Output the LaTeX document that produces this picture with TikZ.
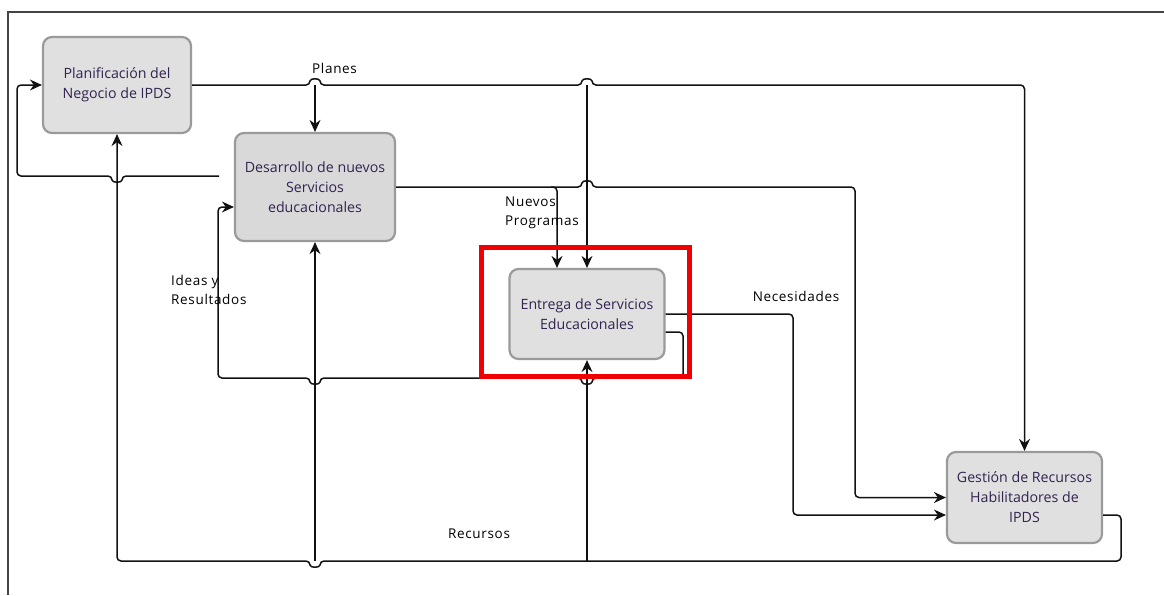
\documentclass[tikz,border=0pt]{standalone}
\usepackage{fontspec}
\setmainfont{Open Sans}
\newfontfamily\lblfont[LetterSpace=5]{Open Sans}
\usetikzlibrary{arrows.meta,calc}
\definecolor{boxfill}{HTML}{E0E0E0}
\definecolor{boxfilldk}{HTML}{D9D9D9}
\definecolor{boxline}{HTML}{9A9A9A}
\definecolor{boxtext}{RGB}{50,35,80}
\definecolor{wire}{HTML}{111111}
\definecolor{framec}{HTML}{444444}
\definecolor{hilite}{HTML}{F00000}

\begin{document}
\begin{tikzpicture}[x=1pt,y=-1pt,
  proc/.style={draw=boxline, line width=2.2pt, fill=boxfill, rounded corners=9pt,
    text=boxtext, align=center, font=\fontsize{14.2}{20}\selectfont, inner sep=0pt},
  flow/.style={draw=wire, line width=1.5pt, rounded corners=4pt},
  plain/.style={line width=1.2pt},
  into/.style={-{Stealth[length=12pt,width=11pt,inset=4pt]}},
  lbl/.style={font=\lblfont\fontsize{13.5}{19}\selectfont, text=black, inner sep=0pt, align=left},
  % line hops: u = bump up, d = bump down; r = drawn rightwards, l = leftwards
  hur/.style 2 args={insert path={-- ({#1-5},#2) .. controls ({#1-5},{#2-7}) and ({#1+5},{#2-7}) .. ({#1+5},#2)}},
  hdl/.style 2 args={insert path={-- ({#1+5},#2) .. controls ({#1+5},{#2+7}) and ({#1-5},{#2+7}) .. ({#1-5},#2)}},
]
\useasboundingbox (0,0) rectangle (1164,595);

% outer frame (top and left edges)
\coordinate (fTL) at (8,12);
\draw[framec, line width=1.2pt] (1164,12) -- (fTL) -- (8,595);

% processes
\node[proc, minimum width=148pt, minimum height=96pt] (plan) at (117,85)
  {Planificación del\\Negocio de IPDS};
\node[proc, fill=boxfilldk, minimum width=160pt, minimum height=108pt] (desa) at (315,187)
  {Desarrollo de nuevos\\Servicios\\educacionales};
\node[proc, minimum width=155pt, minimum height=90pt] (entr) at (587,314)
  {Entrega de Servicios\\Educacionales};
\node[proc, minimum width=155pt, minimum height=91pt] (gest) at (1024.5,497.5)
  {Gestión de Recursos\\Habilitadores de\\IPDS};

% junctions
\coordinate (jPl) at (315,85);
\coordinate (jPe) at (587,85);
\coordinate (jNP) at (551,187);
\coordinate (fbS) at (219,176);
\coordinate (jRd) at (315,561);
\coordinate (jRe) at (587,561);

% Planes
\draw[flow,into] (plan.east) [hur={315}{85}] [hur={587}{85}] -- (1024.5,85) -- (gest.north);
\draw[flow,plain,into] (jPl) -- (desa.north);
\draw[flow,plain,into] (jPe) -- (entr.north);

% Nuevos Programas
\draw[flow,into] (desa.east) [hur={587}{187}] -- (855,187) -- (855,497.5) -- (gest.west);
\draw[flow,into] (jNP) -- (557,187) -- ([xshift=-30pt]entr.north);

% Ideas y Resultados
\draw[flow,into] ([yshift=-18pt]entr.east) -- (683,332) -- (683,378)
  [hdl={587}{378}] [hdl={315}{378}] -- (218,378) -- (218,207) -- ([yshift=-20pt]desa.west);
\draw[flow,into] (fbS) [hdl={117}{176}] -- (17,176) -- (17,85) -- (plan.west);

% Necesidades
\draw[flow,into] (entr.east) -- (793,314) -- (793,515) -- ([yshift=-17.5pt]gest.west);

% Recursos
\draw[flow,into] ([yshift=-17.5pt]gest.east) -- (1121,515) -- (1121,561)
  -- (320,561) .. controls (320,568) and (310,568) .. (310,561) -- (117,561) -- (plan.south);
\draw[flow,plain,into] (jRd) -- (desa.south);
\draw[flow,plain,into] (jRe) -- (entr.south);

% labels
\node[lbl, anchor=west] (tPlanes) at (312,68) {Planes};
\node[lbl, anchor=west] (tNuevos) at (505,212.5) {Nuevos\\Programas};
\node[lbl, anchor=west] (tIdeas) at (171,289.5) {Ideas y\\Resultados};
\node[lbl] (tNeces) at (796,296) {Necesidades};
\node[lbl] (tRecur) at (479,534) {Recursos};

% highlight around the delivery process
\node[draw=hilite, line width=5pt, minimum width=208pt, minimum height=129pt, inner sep=0pt]
  (focus) at (585.5,312) {};
\end{tikzpicture}
\end{document}
